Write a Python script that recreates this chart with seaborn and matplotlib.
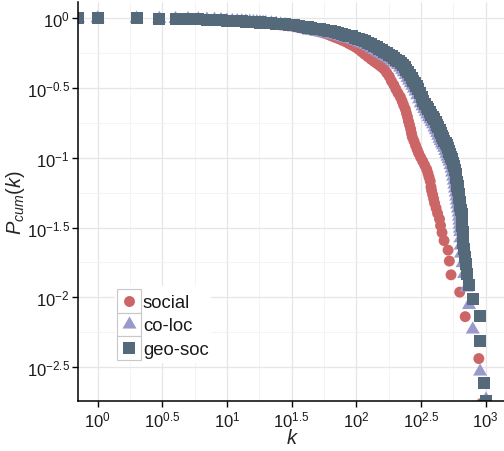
import matplotlib
matplotlib.use("Agg")
import numpy as np
import pandas as pd
import matplotlib.pyplot as plt
import seaborn as sns
from matplotlib.path import Path
from matplotlib.markers import MarkerStyle
from matplotlib.patches import Rectangle
from matplotlib.lines import Line2D
from matplotlib.legend_handler import HandlerBase
from matplotlib.ticker import FixedLocator, NullFormatter

# ---------------- data ----------------
soc_k = [0.705, 1, 2, 3, 4, 5, 6, 7, 8, 9, 10, 12, 14, 15, 17, 20, 22, 24, 26, 28, 30,
         33, 36, 39, 42, 45, 48, 52, 56, 60, 64, 68, 72, 77, 82, 87, 92, 98, 104, 110, 116,
         123, 130, 137, 144, 151, 158, 165, 172, 180, 187, 195, 202, 210, 219, 226, 232,
         239, 244, 249, 253, 258, 263, 267, 271, 279, 287, 295, 303, 314, 326, 338, 350,
         358, 365, 373, 378, 382, 389, 396, 403, 414, 425, 440, 448, 460, 477, 512, 524,
         540, 630, 695, 886, 929]
soc_P = [1.0, 1.0, 0.996, 0.992, 0.989, 0.986, 0.983, 0.979, 0.976, 0.971, 0.961,
         0.952, 0.944, 0.940, 0.932, 0.920, 0.912, 0.904, 0.896, 0.889, 0.882,
         0.870, 0.858, 0.845, 0.833, 0.822, 0.812, 0.799, 0.783, 0.767, 0.748,
         0.732, 0.717, 0.698, 0.681, 0.661, 0.643, 0.623, 0.600, 0.575, 0.553,
         0.530, 0.509, 0.491, 0.475, 0.460, 0.445, 0.429, 0.406, 0.382, 0.355,
         0.333, 0.311, 0.291, 0.273, 0.255, 0.239, 0.224, 0.209, 0.196, 0.183,
         0.172, 0.161, 0.150, 0.141, 0.132, 0.123, 0.115, 0.108, 0.101, 0.0946,
         0.0885, 0.0828, 0.0775, 0.0727, 0.0681, 0.0618, 0.0582, 0.0545, 0.0509, 0.0473,
         0.0436, 0.0400, 0.0364, 0.0327, 0.0291, 0.0255, 0.0218, 0.0182, 0.0145, 0.0109,
         0.00727, 0.00364, 0.00174]

coloc_k = [0.705, 1, 2, 3, 4, 5, 6, 7, 8, 9, 10, 11, 12, 13, 14, 15, 16, 17, 18, 19, 20,
           22, 24, 26, 28, 29, 32, 35, 38, 41, 43, 46, 50, 54, 57, 61, 65, 69, 74, 78, 83,
           88, 94, 99, 105, 111, 118, 124, 131, 138, 144, 151, 158, 164, 172, 180, 187,
           195, 203, 210, 218, 226, 233, 241, 249, 256, 264, 272, 279, 287, 296, 306, 315,
           325, 335, 344, 354, 363, 373, 382, 392, 402, 411, 421, 430, 440, 449, 459, 468,
           478, 488, 497, 507, 516, 526, 535, 545, 550, 560, 567, 573, 579, 586, 593, 598,
           603, 610, 619, 622, 627, 630, 633, 636, 638, 640, 645, 663, 681, 712, 744, 795,
           906, 1007]
coloc_P = [1.0, 1.0, 0.997, 0.993, 0.990, 0.987, 0.984, 0.980, 0.977, 0.972, 0.963,
           0.958, 0.955, 0.952, 0.948, 0.945, 0.941, 0.938, 0.933, 0.930, 0.927,
           0.921, 0.915, 0.904, 0.895, 0.889, 0.876, 0.861, 0.847, 0.833, 0.817,
           0.810, 0.800, 0.791, 0.783, 0.776, 0.766, 0.756, 0.743, 0.732, 0.720,
           0.711, 0.699, 0.686, 0.672, 0.658, 0.643, 0.628, 0.610, 0.593, 0.580,
           0.565, 0.551, 0.539, 0.525, 0.513, 0.497, 0.485, 0.474, 0.462, 0.444,
           0.427, 0.411, 0.393, 0.374, 0.358, 0.343, 0.329, 0.314, 0.299, 0.281,
           0.263, 0.246, 0.234, 0.224, 0.214, 0.205, 0.196, 0.189, 0.181, 0.174,
           0.165, 0.158, 0.151, 0.144, 0.137, 0.132, 0.127, 0.123, 0.118, 0.112,
           0.107, 0.102, 0.0979, 0.0941, 0.0888, 0.0838, 0.0785, 0.0734, 0.0687, 0.0643,
           0.0603, 0.0564, 0.0528, 0.0494, 0.0463, 0.0433, 0.0406, 0.0379, 0.0355, 0.0332,
           0.0311, 0.0294, 0.0265, 0.0235, 0.0206, 0.0176, 0.0147, 0.01176, 0.00882,
           0.00588, 0.00294, 0.00185]

geo_k = [0.705, 1, 2, 3, 4, 5, 6, 7, 8, 9, 10, 11, 12, 13, 14, 15, 16, 17, 18, 19, 20,
         22, 24, 26, 28, 30, 33, 36, 39, 42, 45, 48, 52, 56, 60, 64, 68, 72, 77, 82, 87,
         92, 98, 104, 110, 116, 123, 130, 137, 144, 151, 158, 165, 172, 180, 188, 196,
         204, 212, 220, 228, 236, 244, 252, 260, 268, 276, 284, 292, 300, 310, 320, 330,
         340, 350, 360, 370, 380, 390, 400, 410, 420, 430, 440, 450, 460, 470, 480, 490,
         500, 510, 520, 530, 540, 550, 560, 570, 575, 586, 593, 599, 606, 613, 620, 626,
         631, 638, 647, 651, 656, 659, 662, 665, 668, 672, 677, 687, 702, 718, 744, 795,
         905, 912, 972, 1007]
geo_P = [1.0, 1.0, 0.997, 0.993, 0.990, 0.987, 0.984, 0.980, 0.977, 0.972, 0.963,
         0.958, 0.955, 0.952, 0.948, 0.945, 0.941, 0.938, 0.933, 0.930, 0.927,
         0.921, 0.915, 0.909, 0.904, 0.898, 0.889, 0.879, 0.869, 0.859, 0.851,
         0.844, 0.833, 0.824, 0.816, 0.808, 0.798, 0.787, 0.774, 0.762, 0.750,
         0.741, 0.728, 0.715, 0.700, 0.685, 0.670, 0.654, 0.635, 0.618, 0.604,
         0.589, 0.574, 0.561, 0.547, 0.534, 0.518, 0.505, 0.494, 0.481, 0.463,
         0.445, 0.428, 0.409, 0.390, 0.373, 0.357, 0.343, 0.327, 0.311, 0.293,
         0.274, 0.256, 0.244, 0.233, 0.223, 0.214, 0.204, 0.197, 0.189, 0.181,
         0.172, 0.165, 0.157, 0.150, 0.143, 0.138, 0.132, 0.128, 0.123, 0.117,
         0.111, 0.106, 0.102, 0.0980, 0.0925, 0.0873, 0.0818, 0.0765, 0.0716, 0.0670,
         0.0628, 0.0588, 0.0550, 0.0515, 0.0482, 0.0451, 0.0423, 0.0395, 0.0370, 0.0346,
         0.0324, 0.0294, 0.0270, 0.0245, 0.0221, 0.0196, 0.0172, 0.0147, 0.01225,
         0.0098, 0.00735, 0.0049, 0.00245, 0.00182]

series_names = ["social", "co-loc", "geo-soc"]
x_tick_exp = [0, 0.5, 1, 1.5, 2, 2.5, 3]
x_tick_labels = [r"$10^{0}$", r"$10^{0.5}$", r"$10^{1}$", r"$10^{1.5}$",
                 r"$10^{2}$", r"$10^{2.5}$", r"$10^{3}$"]
y_tick_exp = [0, -0.5, -1, -1.5, -2, -2.5]
y_tick_labels = [r"$10^{0}$", r"$10^{-0.5}$", r"$10^{-1}$", r"$10^{-1.5}$",
                 r"$10^{-2}$", r"$10^{-2.5}$"]

# ---------------- style ----------------
C_SOC, C_CO, C_GEO = "#CC6666", "#9999CC", "#546A7B"

sns.set_style("white")
plt.rcParams["font.family"] = ["Liberation Sans", "DejaVu Sans"]
plt.rcParams["mathtext.fontset"] = "custom"
plt.rcParams["mathtext.rm"] = "Liberation Sans"
plt.rcParams["mathtext.it"] = "Liberation Sans:italic"
plt.rcParams["mathtext.bf"] = "Liberation Sans:bold"

fig = plt.figure(figsize=(5.04, 4.52), dpi=100)
ax = fig.add_axes([0.15476, 0.11062, 0.84524, 0.88341])

tri = MarkerStyle(Path([(0, 1), (-0.866, -0.5), (0.866, -0.5), (0, 1)],
                       [Path.MOVETO, Path.LINETO, Path.LINETO, Path.CLOSEPOLY]))

S_SOC, S_CO, S_GEO = 62, 136, 75
sns.scatterplot(x=soc_k, y=soc_P, color=C_SOC, marker="o", s=S_SOC,
                linewidth=0, edgecolor="none", ax=ax, legend=False)
sns.scatterplot(x=coloc_k, y=coloc_P, color=C_CO, marker=tri, s=S_CO,
                linewidth=0, edgecolor="none", ax=ax, legend=False)
sns.scatterplot(x=geo_k, y=geo_P, color=C_GEO, marker="s", s=S_GEO,
                linewidth=0, edgecolor="none", ax=ax, legend=False)
for coll in ax.collections:
    coll.set_clip_on(True)
    coll.set_clip_box(ax.bbox)

ax.set_xscale("log")
ax.set_yscale("log")
ax.set_xlim(10 ** -0.152, 10 ** 3.142)
ax.set_ylim(10 ** -2.743, 10 ** 0.119)

ax.set_xticks([10 ** e for e in x_tick_exp])
ax.set_xticklabels(x_tick_labels)
ax.set_yticks([10 ** e for e in y_tick_exp])
ax.set_yticklabels(y_tick_labels)
ax.xaxis.set_minor_locator(FixedLocator([10 ** (e + 0.25) for e in x_tick_exp]))
ax.yaxis.set_minor_locator(FixedLocator([10 ** (e - 0.25) for e in y_tick_exp]))
ax.xaxis.set_minor_formatter(NullFormatter())
ax.yaxis.set_minor_formatter(NullFormatter())

ax.set_axisbelow(True)
ax.grid(True, which="major", color="#E6E6E6", linewidth=0.9)
ax.grid(True, which="minor", color="#F3F3F3", linewidth=0.6)

for sp in ["top", "right"]:
    ax.spines[sp].set_visible(False)
for sp in ["left", "bottom"]:
    ax.spines[sp].set_color("black")
    ax.spines[sp].set_linewidth(1.1)

ax.tick_params(which="major", direction="out", length=4, width=1.0, color="black",
               labelsize=12, labelcolor="#1A1A1A", pad=2, bottom=True, left=True)
ax.tick_params(which="minor", length=0, bottom=False, left=False)

ax.set_xlabel(r"$k$", fontsize=14.5)
ax.set_ylabel(r"$P_{cum}(k)$", fontsize=14.5)
ax.xaxis.set_label_coords(0.5035, -0.068)
ax.yaxis.set_label_coords(-0.12, 0.5)


class BoxedKey(HandlerBase):
    def __init__(self, marker, color, ms):
        super().__init__()
        self.marker, self.color, self.ms = marker, color, ms

    def create_artists(self, legend, orig_handle, xdescent, ydescent, width, height,
                       fontsize, trans):
        box = Rectangle((-xdescent, -ydescent), width, height, facecolor="white",
                        edgecolor="#C8C8C8", linewidth=0.8, transform=trans)
        pt = Line2D([width / 2 - xdescent], [height / 2 - ydescent], linestyle="none",
                    marker=self.marker, markersize=self.ms, markerfacecolor=self.color,
                    markeredgewidth=0, transform=trans)
        return [box, pt]


handles = list(ax.collections[:3])
hmap = {handles[0]: BoxedKey("o", C_SOC, np.sqrt(S_SOC)),
        handles[1]: BoxedKey(tri, C_CO, np.sqrt(S_CO)),
        handles[2]: BoxedKey("s", C_GEO, np.sqrt(S_GEO))}
leg = ax.legend(handles, series_names, handler_map=hmap, loc="upper left",
                bbox_to_anchor=(0.0857, 0.2877), borderaxespad=0, borderpad=0.15,
                labelspacing=0, handlelength=1.3, handleheight=1.594,
                handletextpad=0.08, fontsize=13.3, frameon=True, fancybox=False,
                framealpha=1, facecolor="white", edgecolor="none")
leg.get_frame().set_linewidth(0)
for t in leg.get_texts():
    t.set_color("#1A1A1A")

fig.savefig("out.png", dpi=100)
